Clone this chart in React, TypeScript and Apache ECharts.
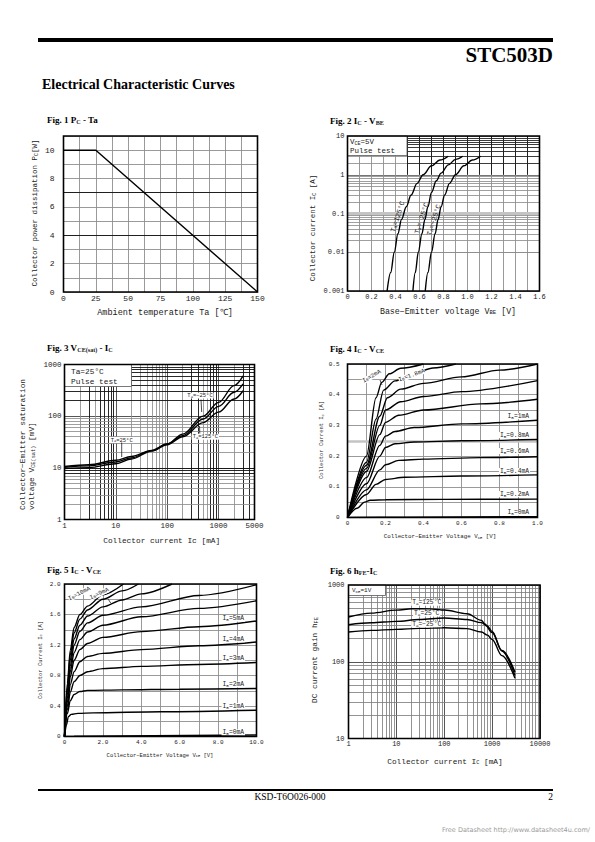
import React, { useEffect, useRef } from "react";
import * as echarts from "echarts";

const MONO = '"Liberation Mono", "DejaVu Sans Mono", monospace';
const SERIF = '"Liberation Serif", "Times New Roman", serif';
const SANS = '"DejaVu Sans", "Liberation Sans", sans-serif';

// ---------- Fig 1: Pc - Ta ----------
const fig1Temp = [0, 25, 150];
const fig1Power = [10, 10, 0];
const fig1XTicks = ["0", "25", "50", "75", "100", "125", "150"];
const fig1YTicks = ["0", "2", "4", "6", "8", "10"];

// ---------- Fig 2: Ic - VBE  ([VBE V, Ic A]) ----------
const fig2Ta125 = [[0.33, 0.001], [0.36, 0.003], [0.39, 0.01], [0.42, 0.03], [0.45, 0.07], [0.49, 0.15], [0.53, 0.3], [0.58, 0.6], [0.63, 1.0], [0.7, 1.7], [0.77, 2.4], [0.84, 3.0]];
const fig2Ta25 = [[0.545, 0.001], [0.565, 0.003], [0.59, 0.01], [0.62, 0.03], [0.645, 0.07], [0.67, 0.15], [0.7, 0.35], [0.74, 0.7], [0.78, 1.1], [0.84, 1.8], [0.9, 2.5], [0.96, 3.0]];
const fig2TaM25 = [[0.648, 0.001], [0.67, 0.003], [0.7, 0.01], [0.73, 0.03], [0.755, 0.07], [0.78, 0.15], [0.81, 0.3], [0.85, 0.6], [0.9, 1.0], [0.97, 1.7], [1.04, 2.4], [1.11, 3.0]];
const fig2XTicks = ["0", "0.2", "0.4", "0.6", "0.8", "1.0", "1.2", "1.4", "1.6"];
const fig2YTicks = ["0.001", "0.01", "0.1", "1", "10"];

// ---------- Fig 3: VCE(sat) - Ic  ([Ic mA, V mV]) ----------
const fig3TaM25 = [[1, 10.2], [3, 10.9], [10, 13], [20, 15.6], [50, 21.5], [100, 29], [200, 45], [500, 100], [1000, 185], [2000, 390], [3000, 600]];
const fig3Ta25 = [[1, 10.6], [3, 11.5], [10, 14], [20, 16.6], [50, 21.8], [100, 29], [200, 42], [500, 88], [1000, 155], [2000, 290], [3000, 420]];
const fig3Ta125 = [[1, 9.7], [3, 10.1], [10, 12], [20, 14.8], [50, 21.2], [100, 28], [200, 40], [500, 75], [1000, 120], [2000, 215], [3000, 310]];
const fig3XTicks = ["1", "10", "100", "1000", "5000"];
const fig3YTicks = ["1", "10", "100", "1000"];

// ---------- Fig 4: Ic - VCE (IB 0 .. 2 mA) ([VCE V, Ic A]) ----------
const fig4Ib0 = [[0, 0], [0.3, 0.001], [1.0, 0.003]];
const fig4Ib02 = [[0, 0], [0.05, 0.03], [0.09, 0.05], [0.12, 0.056], [0.2, 0.058], [0.5, 0.059], [1.0, 0.06]];
const fig4Ib04 = [[0, 0], [0.1, 0.075], [0.15, 0.108], [0.2, 0.124], [0.3, 0.131], [0.6, 0.135], [1.0, 0.139]];
const fig4Ib06 = [[0, 0], [0.1, 0.09], [0.17, 0.155], [0.2, 0.172], [0.27, 0.186], [0.4, 0.19], [0.7, 0.195], [1.0, 0.198]];
const fig4Ib08 = [[0, 0], [0.1, 0.11], [0.17, 0.2], [0.2, 0.228], [0.25, 0.24], [0.35, 0.246], [0.6, 0.25], [1.0, 0.254]];
const fig4Ib10 = [[0, 0], [0.1, 0.13], [0.17, 0.235], [0.2, 0.265], [0.25, 0.28], [0.35, 0.293], [0.6, 0.305], [1.0, 0.317]];
const fig4Ib12 = [[0, 0], [0.1, 0.15], [0.17, 0.27], [0.2, 0.31], [0.27, 0.333], [0.4, 0.35], [0.7, 0.37], [1.0, 0.385]];
const fig4Ib14 = [[0, 0], [0.1, 0.16], [0.17, 0.3], [0.2, 0.35], [0.28, 0.377], [0.4, 0.394], [0.6, 0.41], [1.0, 0.446]];
const fig4Ib16 = [[0, 0], [0.1, 0.17], [0.17, 0.33], [0.21, 0.39], [0.28, 0.418], [0.4, 0.437], [0.6, 0.458], [0.8, 0.48], [1.0, 0.5]];
const fig4Ib18 = [[0, 0], [0.1, 0.18], [0.15, 0.32], [0.19, 0.415], [0.25, 0.445], [0.35, 0.47], [0.45, 0.487], [0.57, 0.5]];
const fig4Ib20 = [[0, 0], [0.1, 0.2], [0.15, 0.39], [0.18, 0.44], [0.22, 0.468], [0.28, 0.486], [0.4, 0.5]];
const fig4XTicks = ["0", "0.2", "0.4", "0.6", "0.8", "1.0"];
const fig4YTicks = ["0", "0.1", "0.2", "0.3", "0.4", "0.5"];

// ---------- Fig 5: Ic - VCE (IB 0 .. 10 mA) ([VCE V, Ic A]) ----------
const fig5Ib0 = [[0, 0], [0.5, 0.005], [10, 0.02]];
const fig5Ib1 = [[0, 0], [0.1, 0.15], [0.2, 0.26], [0.35, 0.29], [0.7, 0.303], [1.5, 0.31], [5, 0.325], [10, 0.345]];
const fig5Ib2 = [[0, 0], [0.15, 0.3], [0.3, 0.47], [0.5, 0.55], [0.8, 0.59], [1.2, 0.605], [3, 0.612], [6, 0.62], [10, 0.63]];
const fig5Ib3 = [[0, 0], [0.15, 0.35], [0.3, 0.58], [0.5, 0.72], [0.8, 0.8], [1.2, 0.85], [2, 0.89], [4, 0.92], [7, 0.945], [10, 0.97]];
const fig5Ib4 = [[0, 0], [0.15, 0.4], [0.3, 0.68], [0.5, 0.85], [0.8, 0.98], [1.2, 1.05], [2, 1.09], [4, 1.14], [7, 1.19], [10, 1.24]];
const fig5Ib5 = [[0, 0], [0.15, 0.45], [0.3, 0.78], [0.5, 1.0], [0.8, 1.14], [1.2, 1.22], [2, 1.3], [4, 1.375], [7, 1.44], [10, 1.515]];
const fig5Ib6 = [[0, 0], [0.15, 0.5], [0.3, 0.85], [0.5, 1.1], [0.8, 1.27], [1.2, 1.37], [2, 1.46], [4, 1.57], [7, 1.68], [10, 1.78]];
const fig5Ib7 = [[0, 0], [0.15, 0.55], [0.3, 0.92], [0.5, 1.2], [0.8, 1.38], [1.2, 1.49], [2, 1.59], [4, 1.7], [7, 1.85], [10, 1.99]];
const fig5Ib8 = [[0, 0], [0.15, 0.6], [0.3, 1.0], [0.5, 1.28], [0.8, 1.46], [1.2, 1.58], [2, 1.7], [3, 1.79], [4, 1.87], [5.6, 2.0]];
const fig5Ib9 = [[0, 0], [0.15, 0.65], [0.3, 1.07], [0.5, 1.36], [0.8, 1.54], [1.2, 1.66], [2, 1.8], [3, 1.91], [3.85, 2.0]];
const fig5Ib10 = [[0, 0], [0.15, 0.7], [0.3, 1.13], [0.5, 1.43], [0.8, 1.6], [1.2, 1.71], [2, 1.86], [3.07, 2.0]];
const fig5XTicks = ["0", "2.0", "4.0", "6.0", "8.0", "10.0"];
const fig5YTicks = ["0", "0.4", "0.8", "1.2", "1.6", "2.0"];

// ---------- Fig 6: hFE - Ic ([Ic mA, hFE]) ----------
const fig6Ta125 = [[1, 383], [3, 430], [10, 470], [21, 491], [50, 488], [100, 472], [300, 423], [600, 346], [700, 310], [1000, 240], [1600, 140], [3000, 73]];
const fig6Ta25 = [[1, 304], [3, 322], [10, 336], [30, 355], [100, 371], [300, 356], [600, 323], [800, 290], [1000, 248], [1600, 138], [3000, 66]];
const fig6TaM25 = [[1, 244], [3, 256], [10, 264], [30, 272], [100, 277], [300, 270], [600, 244], [800, 222], [1000, 195], [1600, 120], [3000, 61]];
const fig6XTicks = ["1", "10", "100", "1000", "10000"];
const fig6YTicks = ["10", "100", "1000"];

// ---------- layout ----------
const GRIDS = [
  { left: 63.5, top: 136, width: 194, height: 156 },
  { left: 347.5, top: 136, width: 192, height: 155 },
  { left: 64.5, top: 364.5, width: 190, height: 155 },
  { left: 347.5, top: 364, width: 190, height: 153.5 },
  { left: 64.5, top: 584, width: 192, height: 152.5 },
  { left: 348.5, top: 585, width: 191.5, height: 153.5 },
];

const GRAY = "#8e8e8e";
const INK = "#1a1a1a";

function zip(xs: number[], ys: number[]) {
  return xs.map((x, i) => [x, ys[i]]);
}

function valAxis(i: number, min: number, max: number, interval: number, fmt: (v: number) => string, size: number, margin: number) {
  return {
    type: "value", gridIndex: i, min, max, interval,
    axisLine: { show: false }, axisTick: { show: false },
    splitLine: { show: true, lineStyle: { color: GRAY, width: 0.9 } },
    axisLabel: { formatter: fmt, fontFamily: MONO, fontSize: size, color: INK, margin, hideOverlap: false },
  };
}
function logAxis(i: number, min: number, max: number, fmt: (v: number) => string, size: number, margin: number, splitColor = "#666") {
  return {
    type: "log", logBase: 10, gridIndex: i, min, max,
    axisLine: { show: false }, axisTick: { show: false },
    splitLine: { show: true, lineStyle: { color: splitColor, width: 0.9 } },
    axisLabel: { formatter: fmt, fontFamily: MONO, fontSize: size, color: INK, margin, hideOverlap: false },
  };
}

function curve(i: number, data: number[][], smooth: number | boolean = 0.35) {
  return {
    type: "line", xAxisIndex: i, yAxisIndex: i, data, showSymbol: false, symbol: "none",
    smooth, smoothMonotone: "x", silent: true, z: 3,
    lineStyle: { color: "#000", width: 1.4 },
  };
}

function gridLines(i: number, lines: any[]) {
  return {
    type: "line", xAxisIndex: i, yAxisIndex: i, data: [], silent: true, z: 1,
    markLine: {
      z: 1, zlevel: 0,
      silent: true, symbol: ["none", "none"], label: { show: false }, animation: false,
      emphasis: { disabled: true },
      lineStyle: { type: "solid", color: GRAY, width: 0.85 },
      data: lines,
    },
  };
}

function logMinor(axis: "xAxis" | "yAxis", e0: number, e1: number, below = Infinity, style?: any) {
  const out: any[] = [];
  for (let e = e0; e < e1; e++) {
    for (let m = 2; m <= 9; m++) {
      const v = m * Math.pow(10, e);
      if (v < below) out.push(style ? { [axis]: v, lineStyle: style } : { [axis]: v });
    }
  }
  return out;
}

const BLACK_LINE = { color: "#111", width: 0.9, type: "solid" };

function subRich(size: number, family = MONO, weight = "normal") {
  return {
    s: { fontSize: size * 0.68, fontFamily: family, fontWeight: weight, verticalAlign: "bottom", lineHeight: Math.max(3, size * 0.45), fill: INK },
  };
}

function T(x: number, y: number, text: string, size: number, o: any = {}) {
  const family = o.family || MONO;
  const weight = o.weight || "normal";
  return {
    type: "text", x, y, z: 60, silent: true, rotation: o.rotation || 0,
    style: {
      text, fontFamily: family, fontSize: size, fontWeight: weight,
      fill: o.fill || INK, align: o.align || "left", verticalAlign: o.va || "middle",
      backgroundColor: o.bg, padding: o.pad,
      rich: subRich(size, family, weight),
    },
  };
}

function L(x1: number, y1: number, x2: number, y2: number, w = 0.7) {
  return { type: "line", z: 60, silent: true, shape: { x1, y1, x2, y2 }, style: { stroke: "#000", lineWidth: w } };
}

function box(x: number, y: number, w: number, h: number) {
  return { type: "rect", z: 55, silent: true, shape: { x, y, width: w, height: h }, style: { fill: "#fff", stroke: "#555", lineWidth: 0.8 } };
}

function buildOption() {
  const ROT = Math.PI / 2;
  const frames = GRIDS.map((g) => ({
    type: "rect", z: 70, silent: true,
    shape: { x: g.left, y: g.top, width: g.width, height: g.height },
    style: { fill: "none", stroke: "#000", lineWidth: 1.6 },
  }));

  const graphic: any[] = [
    // header / footer
    { type: "rect", z: 10, silent: true, shape: { x: 38, y: 38, width: 515, height: 4 }, style: { fill: "#000" } },
    T(553, 55, "STC503D", 21, { family: SERIF, weight: "bold", align: "right", fill: "#000" }),
    T(42, 84, "Electrical Characteristic Curves", 14, { family: SERIF, weight: "bold", fill: "#000" }),
    { type: "rect", z: 10, silent: true, shape: { x: 38, y: 789, width: 515, height: 2 }, style: { fill: "#000" } },
    T(290, 797, "KSD-T6O026-000", 9.5, { family: SERIF, align: "center", fill: "#000" }),
    T(553, 797, "2", 9.5, { family: SERIF, align: "right", fill: "#000" }),
    T(590, 830, "Free Datasheet http://www.datasheet4u.com/", 6.5, { family: SANS, align: "right", fill: "#9a9a9a" }),

    // figure titles
    T(47, 120, "Fig. 1 P{s|C} - Ta", 9, { family: SERIF, weight: "bold", fill: "#000" }),
    T(330, 121, "Fig. 2 I{s|C} - V{s|BE}", 9, { family: SERIF, weight: "bold", fill: "#000" }),
    T(47, 348, "Fig. 3 V{s|CE(sat)} - I{s|C}", 9, { family: SERIF, weight: "bold", fill: "#000" }),
    T(330, 349, "Fig. 4 I{s|C} - V{s|CE}", 9, { family: SERIF, weight: "bold", fill: "#000" }),
    T(47, 570, "Fig. 5 I{s|C} - V{s|CE}", 9, { family: SERIF, weight: "bold", fill: "#000" }),
    T(330, 571, "Fig. 6 h{s|FE}-I{s|C}", 9, { family: SERIF, weight: "bold", fill: "#000" }),

    // Fig 1 names
    T(35, 213, "Collector power dissipation P{s|C}[W]", 7.5, { align: "center", rotation: ROT }),
    T(165, 313, "Ambient temperature Ta [℃]", 8.5, { align: "center" }),

    // Fig 2
    T(313, 228, "Collector current I{s|C} [A]", 7.5, { align: "center", rotation: ROT }),
    T(448, 311, "Base−Emitter voltage V{s|BE} [V]", 8.3, { align: "center" }),
    box(347.5, 136, 59.5, 19.5),
    T(350, 142, "V{s|CE}=5V", 7.5),
    T(350, 150.5, "Pulse test", 7.5),
    T(397.7, 216.7, "T{s|a}=125°C", 7, { align: "center", rotation: 1.26 }),
    T(421.7, 218.3, "T{s|a}= 25°C", 7, { align: "center", rotation: 1.26 }),
    T(434, 220, "T{s|a}=−25°C", 7, { align: "center", rotation: 1.26 }),

    // Fig 3
    T(23.3, 510, "Collector−Emitter saturation", 7.8, { rotation: ROT }),
    T(32.3, 510, "voltage V{s|CE(sat)} [mV]", 7.8, { rotation: ROT }),
    T(161.7, 541, "Collector current Ic [mA]", 7.8, { align: "center" }),
    box(64.5, 364.5, 67, 22),
    T(71, 371.7, "Ta=25°C", 7.8),
    T(71, 381.7, "Pulse test", 7.8),
    T(200, 395.5, "T{s|a}=−25°C", 5.5, { align: "center", bg: "#fff", pad: [0, 1] }),
    L(201, 399.5, 201.7, 412),
    T(205.3, 436.7, "T{s|a}=125°C", 5.5, { align: "center", bg: "#fff", pad: [0, 1] }),
    L(199.5, 426, 199.8, 433.5),
    T(121.7, 440, "T{s|a}=25°C", 5.5, { align: "center", bg: "#fff", pad: [0, 1] }),
    L(121.7, 442.5, 121.7, 457),

    // Fig 4
    T(321.7, 440, "Collector Current I{s|C} [A]", 5.5, { align: "center", rotation: ROT }),
    T(440, 536.7, "Collector−Emitter Voltage V{s|CE} [V]", 5.8, { align: "center" }),
    T(371.7, 376.3, "I{s|B}=2mA", 6, { align: "center", rotation: 0.54, bg: "#fff" }),
    L(380, 380, 382, 385),
    T(411.7, 375.3, "I{s|B}=1.8mA", 6, { align: "center", rotation: 0.35, bg: "#fff" }),
    T(530, 416, "I{s|B}=1mA", 6.3, { align: "right", bg: "#fff", pad: [0, 1] }),
    T(530, 435, "I{s|B}=0.8mA", 6.3, { align: "right", bg: "#fff", pad: [0, 1] }),
    T(530, 451, "I{s|B}=0.6mA", 6.3, { align: "right", bg: "#fff", pad: [0, 1] }),
    T(530, 471, "I{s|B}=0.4mA", 6.3, { align: "right", bg: "#fff", pad: [0, 1] }),
    T(530, 494, "I{s|B}=0.2mA", 6.3, { align: "right", bg: "#fff", pad: [0, 1] }),
    T(530, 512.7, "I{s|B}=0mA", 6.3, { align: "right", bg: "#fff", pad: [0, 1] }),

    // Fig 5
    T(40, 660, "Collector Current I{s|C} [A]", 5.5, { align: "center", rotation: ROT }),
    T(160, 755.3, "Collector−Emitter Voltage V{s|CE} [V]", 5.5, { align: "center" }),
    T(79.3, 593.7, "I{s|B}=10mA", 6, { align: "center", rotation: 0.47, bg: "#fff" }),
    T(99.3, 593.7, "I{s|B}=9mA", 6, { align: "center", rotation: 0.45, bg: "#fff" }),
    L(108.3, 599.3, 110.7, 603),
    T(245, 618.7, "I{s|B}=5mA", 6.3, { align: "right", bg: "#fff", pad: [0, 1] }),
    T(245, 639.3, "I{s|B}=4mA", 6.3, { align: "right", bg: "#fff", pad: [0, 1] }),
    T(245, 658.7, "I{s|B}=3mA", 6.3, { align: "right", bg: "#fff", pad: [0, 1] }),
    T(245, 684.3, "I{s|B}=2mA", 6.3, { align: "right", bg: "#fff", pad: [0, 1] }),
    T(245, 706, "I{s|B}=1mA", 6.3, { align: "right", bg: "#fff", pad: [0, 1] }),
    T(245, 732.3, "I{s|B}=0mA", 6.3, { align: "right", bg: "#fff", pad: [0, 1] }),

    // Fig 6
    T(315, 660, "DC current gain h{s|FE}", 7.8, { align: "center", rotation: ROT }),
    T(445, 761.7, "Collector current I{s|C} [mA]", 7.8, { align: "center" }),
    box(348.5, 585, 37, 10.5),
    T(352, 590.5, "V{s|CE}=1V", 6),
    T(426.7, 602.7, "T{s|a}=125°C", 6.3, { align: "center", bg: "#fff", pad: [0, 1] }),
    T(426.7, 613.5, "T{s|a}=25°C", 6.3, { align: "center", bg: "#fff", pad: [0, 1] }),
    T(426.7, 624.3, "T{s|a}=−25°C", 6.3, { align: "center", bg: "#fff", pad: [0, 1] }),
    ...frames,
  ];

  // grid line sets
  const fig2Lines = [
    ...logMinor("yAxis", -3, 1),
    { yAxis: 0.1, lineStyle: { color: "#c4c4c4", width: 3, type: "solid" } },
    ...[0.5, 0.6, 0.7, 0.8, 0.9, 1.0, 1.1, 1.2, 1.3, 1.4, 1.5].map((x) => [
      { coord: [x, 1], lineStyle: BLACK_LINE }, { coord: [x, 10] },
    ]),
    ...[2, 3, 4, 5, 6, 7, 8, 9].map((y) => [
      { coord: [0.5, y], lineStyle: { color: "#222", width: 0.8, type: "solid" } }, { coord: [1.6, y] },
    ]),
  ];
  const fig3Black = [3, 5, 6, 7, 8, 9, 300, 400, 700, 800, 900, 3000, 4000];
  const fig3Lines = [
    ...logMinor("xAxis", 0, 4, 5000).map((d) => (fig3Black.includes(d.xAxis) ? { ...d, lineStyle: BLACK_LINE } : d)),
    ...logMinor("yAxis", 0, 3).map((d) => (d.yAxis >= 200 || d.yAxis === 8 || d.yAxis === 9 ? { ...d, lineStyle: BLACK_LINE } : d)),
    { yAxis: 10, lineStyle: BLACK_LINE },
  ];
  const fig6Lines = [
    ...logMinor("xAxis", 0, 4, Infinity, { color: "#808080", width: 0.85, type: "solid" }),
    ...logMinor("yAxis", 1, 3, Infinity, { color: "#808080", width: 0.85, type: "solid" }),
  ];

  return {
    animation: false,
    backgroundColor: "#fff",
    grid: GRIDS.map((g) => ({ ...g, containLabel: false, show: false })),
    xAxis: [
      valAxis(0, 0, 150, 12.5, (v) => { const k = Math.round(v / 12.5); return k % 2 === 0 ? fig1XTicks[k / 2] : ""; }, 8, 2),
      valAxis(1, 0, 1.6, 0.1, (v) => { const k = Math.round(v * 10); return k % 2 === 0 ? fig2XTicks[k / 2] : ""; }, 7, 2),
      logAxis(2, 1, 5000, (v) => fig3XTicks[Math.round(Math.log10(v))] ?? "", 7.5, 2, "#444"),
      valAxis(3, 0, 1.0, 0.1, (v) => { const k = Math.round(v * 10); return k % 2 === 0 ? fig4XTicks[k / 2] : ""; }, 6, 3),
      valAxis(4, 0, 10, 1, (v) => { const k = Math.round(v); return k % 2 === 0 ? fig5XTicks[k / 2] : ""; }, 6, 3),
      logAxis(5, 1, 10000, (v) => fig6XTicks[Math.round(Math.log10(v))] ?? "", 7, 2, "#444"),
    ],
    yAxis: [
      valAxis(0, 0, 11, 1, (v) => { const k = Math.round(v); return k % 2 === 0 && k <= 10 ? fig1YTicks[k / 2] : ""; }, 8, 9),
      logAxis(1, 0.001, 10, (v) => fig2YTicks[Math.round(Math.log10(v)) + 3] ?? "", 7, 3),
      logAxis(2, 1, 1000, (v) => fig3YTicks[Math.round(Math.log10(v))] ?? "", 7.5, 3, "#444"),
      valAxis(3, 0, 0.5, 0.05, (v) => { const k = Math.round(v * 20); return k % 2 === 0 ? fig4YTicks[k / 2] : ""; }, 6, 8),
      valAxis(4, 0, 2.0, 0.2, (v) => { const k = Math.round(v * 5); return k % 2 === 0 ? fig5YTicks[k / 2] : ""; }, 6, 4),
      logAxis(5, 10, 1000, (v) => fig6YTicks[Math.round(Math.log10(v)) - 1] ?? "", 7, 4, "#444"),
    ],
    series: [
      gridLines(0, [{ yAxis: 7, lineStyle: BLACK_LINE }, { yAxis: 4, lineStyle: BLACK_LINE }]),
      curve(0, zip(fig1Temp, fig1Power), false),
      gridLines(1, fig2Lines),
      curve(1, fig2Ta125), curve(1, fig2Ta25), curve(1, fig2TaM25),
      gridLines(2, fig3Lines),
      curve(2, fig3TaM25), curve(2, fig3Ta25), curve(2, fig3Ta125),
      gridLines(3, [{ yAxis: 0.25, lineStyle: { color: "#c4c4c4", width: 2.5, type: "solid" } }]),
      ...[fig4Ib0, fig4Ib02, fig4Ib04, fig4Ib06, fig4Ib08, fig4Ib10, fig4Ib12, fig4Ib14, fig4Ib16, fig4Ib18, fig4Ib20].map((d) => curve(3, d, 0.3)),
      ...[fig5Ib0, fig5Ib1, fig5Ib2, fig5Ib3, fig5Ib4, fig5Ib5, fig5Ib6, fig5Ib7, fig5Ib8, fig5Ib9, fig5Ib10].map((d) => curve(4, d, 0.3)),
      gridLines(5, fig6Lines),
      curve(5, fig6Ta125), curve(5, fig6Ta25), curve(5, fig6TaM25),
    ],
    graphic,
  };
}

export default function App() {
  const ref = useRef<HTMLDivElement>(null);
  useEffect(() => {
    if (!ref.current) return;
    const chart = echarts.init(ref.current, null, { renderer: "svg" });
    chart.setOption(buildOption() as any);
    return () => chart.dispose();
  }, []);
  return (
    <div
      ref={ref}
      style={{ position: "absolute", left: 0, top: 0, width: 595, height: 842, background: "#fff" }}
    />
  );
}
